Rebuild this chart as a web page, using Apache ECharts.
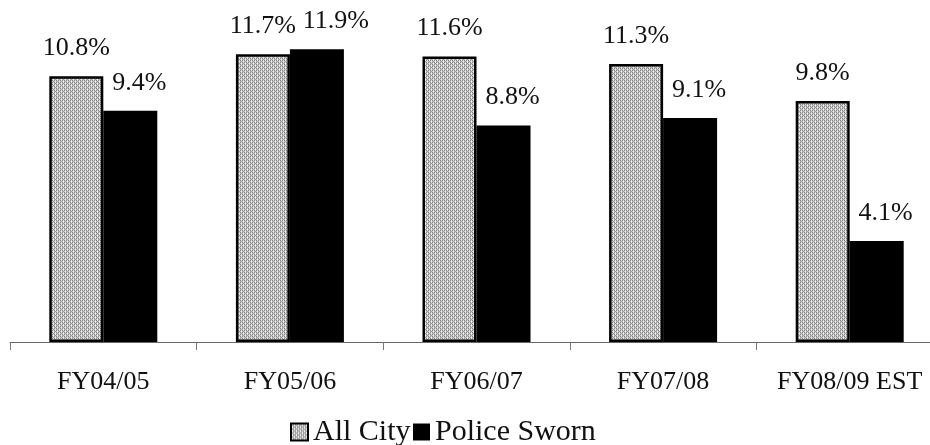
<!DOCTYPE html>
<html>
<head>
<meta charset="utf-8">
<script src="https://cdn.jsdelivr.net/npm/echarts@6/dist/echarts.min.js"></script>
<style>
  html, body { margin: 0; padding: 0; background: #fff; }
  #chart { width: 930px; height: 445px; }
</style>
</head>
<body>
<div id="chart"></div>
<script>
// Turnover rate by fiscal year
const categories = ['FY04/05', 'FY05/06', 'FY06/07', 'FY07/08', 'FY08/09 EST'];
const allCity = [10.8, 11.7, 11.6, 11.3, 9.8];
const policeSworn = [9.4, 11.9, 8.8, 9.1, 4.1];

// Small stippled tile used as the fill for the "All City" bars
function stipple() {
  const c = document.createElement('canvas');
  c.width = 4; c.height = 4;
  const g = c.getContext('2d');
  const tile = [
    ['#7c7c7c', '#e8e8e8', '#8a8a8a', '#d8d8d8'],
    ['#bcbcbc', '#9a9a9a', '#c8c8c8', '#f0f0f0'],
    ['#868686', '#dcdcdc', '#7c7c7c', '#e4e4e4'],
    ['#c4c4c4', '#f2f2f2', '#b0b0b0', '#9c9c9c']
  ];
  for (let y = 0; y < 4; y++) {
    for (let x = 0; x < 4; x++) {
      g.fillStyle = tile[y][x];
      g.fillRect(x, y, 1, 1);
    }
  }
  return c;
}
const grayFill = { image: stipple(), repeat: 'repeat' };

const FONT = '"Liberation Serif", "Times New Roman", serif';
const pct = p => p.value.toFixed(1) + '%';

const legendText = { fontFamily: FONT, fontSize: 30, color: '#111', lineHeight: 30 };
const legendBase = { top: 417, padding: 0, itemWidth: 17, itemHeight: 17, icon: 'rect' };

const chart = echarts.init(document.getElementById('chart'), null, { renderer: 'canvas' });
chart.setOption({
  animation: false,
  backgroundColor: '#fff',
  // the category band runs a little past the right edge of the canvas
  grid: { left: 10, width: 933, top: 0, bottom: 103, outerBoundsMode: 'none' },
  legend: [
    Object.assign({}, legendBase, { left: 290, data: ['All City'], textStyle: legendText }),
    Object.assign({}, legendBase, { left: 413, data: ['Police Sworn'], textStyle: legendText })
  ],
  xAxis: {
    type: 'category',
    data: categories,
    boundaryGap: true,
    axisLine: { lineStyle: { color: '#666', width: 1 } },
    axisTick: { show: true, length: 8, lineStyle: { color: '#777' } },
    axisLabel: { interval: 0, fontFamily: FONT, fontSize: 26, color: '#111', margin: 27 }
  },
  yAxis: {
    type: 'value',
    min: 0,
    max: 13.9,
    show: false,
    splitLine: { show: false }
  },
  series: [
    {
      name: 'All City',
      type: 'bar',
      data: allCity,
      barWidth: 54,
      barGap: '0%',
      itemStyle: { color: grayFill, borderColor: '#000', borderWidth: 2.5 },
      label: {
        show: true, position: 'top', distance: 15,
        fontFamily: FONT, fontSize: 26, color: '#111',
        formatter: pct
      }
    },
    {
      name: 'Police Sworn',
      type: 'bar',
      data: policeSworn.map((v, i) => i === 1 ? { value: v, label: { offset: [19, 0] } } : v),
      barWidth: 54,
      barGap: '0%',
      itemStyle: { color: '#000' },
      label: {
        show: true, position: 'top', distance: 15, offset: [9, 0],
        fontFamily: FONT, fontSize: 26, color: '#111',
        formatter: pct
      }
    }
  ]
});
</script>
</body>
</html>
